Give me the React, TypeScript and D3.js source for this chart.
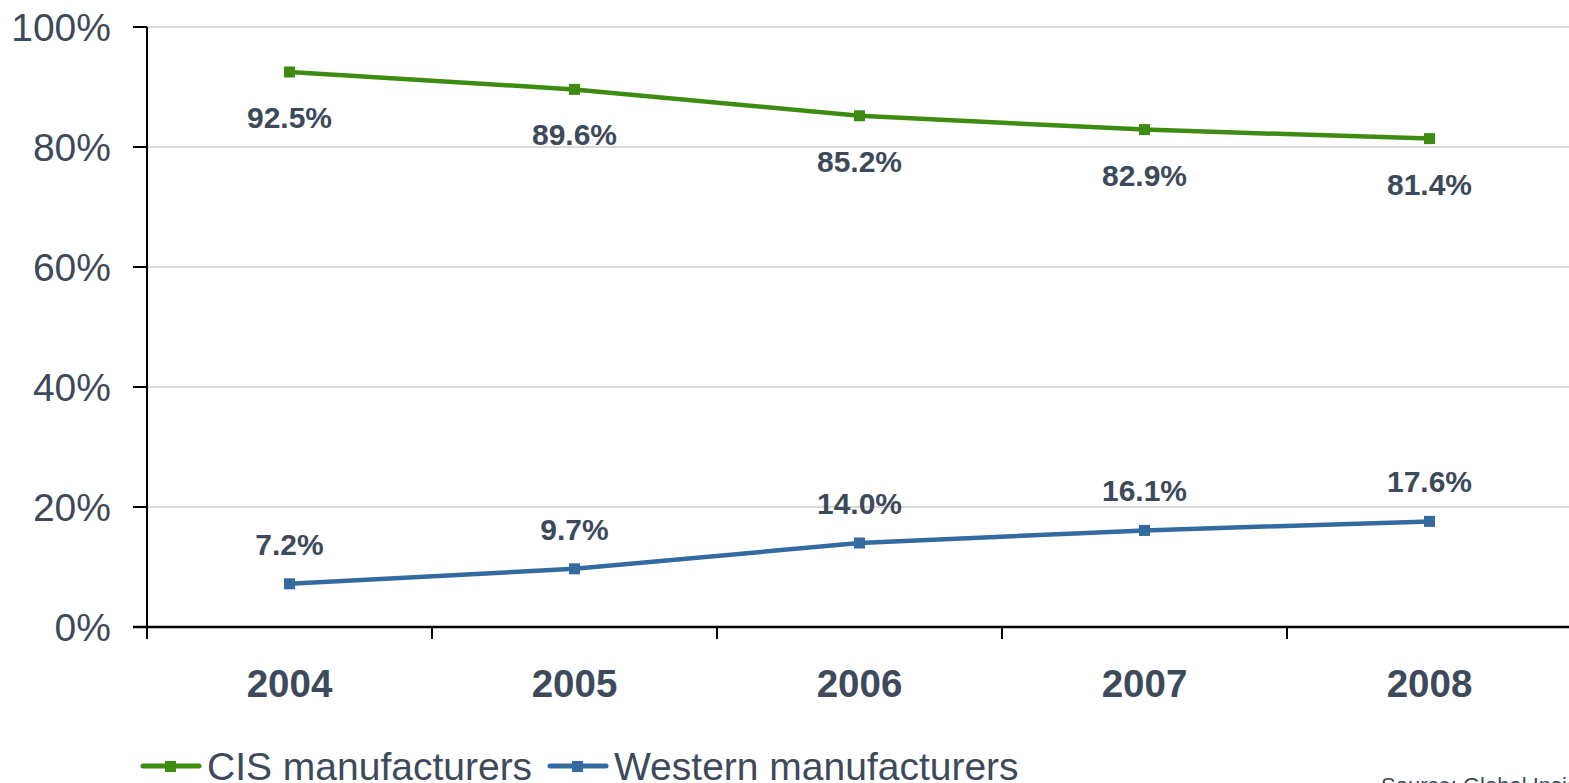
import React from "react";
import * as d3 from "d3";

const years = ["2004", "2005", "2006", "2007", "2008"];
const cisShare = [92.5, 89.6, 85.2, 82.9, 81.4];
const westernShare = [7.2, 9.7, 14.0, 16.1, 17.6];
const yTicks = [0, 20, 40, 60, 80, 100];
const seriesNames = ["CIS manufacturers", "Western manufacturers"];
const sourceNote = "Source: Global Insight";

const W = 1569;
const H = 783;
const FONT = "'Liberation Sans', Arial, Helvetica, sans-serif";
const TEXT = "#3c4a5c";
const GREEN = "#3e8b12";
const BLUE = "#336a9f";

export default function App() {
  const left = 147;
  const right = 1572;
  const top = 27;
  const bottom = 627;

  const x = d3.scaleBand<string>().domain(years).range([left, right]);
  const y = d3.scaleLinear().domain([0, 100]).range([bottom, top]);
  const cx = (yr: string) => (x(yr) as number) + x.bandwidth() / 2;

  const line = d3
    .line<number>()
    .x((_, i) => cx(years[i]))
    .y((v) => y(v));

  const series = [
    { name: seriesNames[0], values: cisShare, color: GREEN, labelDy: 56 },
    { name: seriesNames[1], values: westernShare, color: BLUE, labelDy: -29 },
  ];

  const legend = [
    { name: seriesNames[0], color: GREEN, x0: 143 },
    { name: seriesNames[1], color: BLUE, x0: 550 },
  ];

  return (
    <div style={{ position: "fixed", left: 0, top: 0, width: W, height: H, background: "#fff" }}>
      <svg width={W} height={H} style={{ display: "block" }} fontFamily={FONT}>
        {/* horizontal gridlines */}
        {yTicks.map((t) =>
          t === 0 ? null : (
            <line key={"g" + t} x1={left} x2={W} y1={y(t)} y2={y(t)} stroke="#d9d9d9" strokeWidth={2} />
          )
        )}
        {/* y axis */}
        <line x1={left} x2={left} y1={top} y2={bottom + 12} stroke="#000" strokeWidth={2} />
        {yTicks.map((t) => (
          <g key={"y" + t}>
            <line x1={133} x2={left} y1={y(t)} y2={y(t)} stroke="#000" strokeWidth={2} />
            <text x={111} y={y(t)} dy="0.36em" textAnchor="end" fontSize={39} fill={TEXT}>
              {t}%
            </text>
          </g>
        ))}
        {/* x axis */}
        <line x1={133} x2={W} y1={bottom} y2={bottom} stroke="#000" strokeWidth={2.5} />
        {years.map((yr) => (
          <g key={"x" + yr}>
            <line
              x1={x(yr) as number}
              x2={x(yr) as number}
              y1={bottom}
              y2={bottom + 12}
              stroke="#000"
              strokeWidth={2}
            />
            <text x={cx(yr)} y={697} textAnchor="middle" fontSize={38.5} fontWeight="bold" fill={TEXT}>
              {yr}
            </text>
          </g>
        ))}
        {/* series lines, markers and value labels */}
        {series.map((s) => (
          <g key={s.name}>
            <path d={line(s.values) || ""} fill="none" stroke={s.color} strokeWidth={4.5} />
            {s.values.map((v, i) => (
              <rect
                key={"m" + i}
                x={cx(years[i]) - 5.5}
                y={y(v) - 5.5}
                width={11}
                height={11}
                fill={s.color}
              />
            ))}
            {s.values.map((v, i) => (
              <text
                key={"l" + i}
                x={cx(years[i])}
                y={y(v) + s.labelDy}
                textAnchor="middle"
                fontSize={30}
                fontWeight="bold"
                fill={TEXT}
              >
                {v.toFixed(1)}%
              </text>
            ))}
          </g>
        ))}
        {/* legend */}
        {legend.map((l) => (
          <g key={"lg" + l.name}>
            <line x1={l.x0} x2={l.x0 + 56} y1={766} y2={766} stroke={l.color} strokeWidth={5} strokeLinecap="round" />
            <rect x={l.x0 + 22} y={761} width={11} height={11} fill={l.color} />
            <text x={l.x0 + 64} y={780} fontSize={39} fill={TEXT}>
              {l.name}
            </text>
          </g>
        ))}
        <text x={1381} y={793} fontSize={22} fill={TEXT}>
          {sourceNote}
        </text>
      </svg>
    </div>
  );
}
